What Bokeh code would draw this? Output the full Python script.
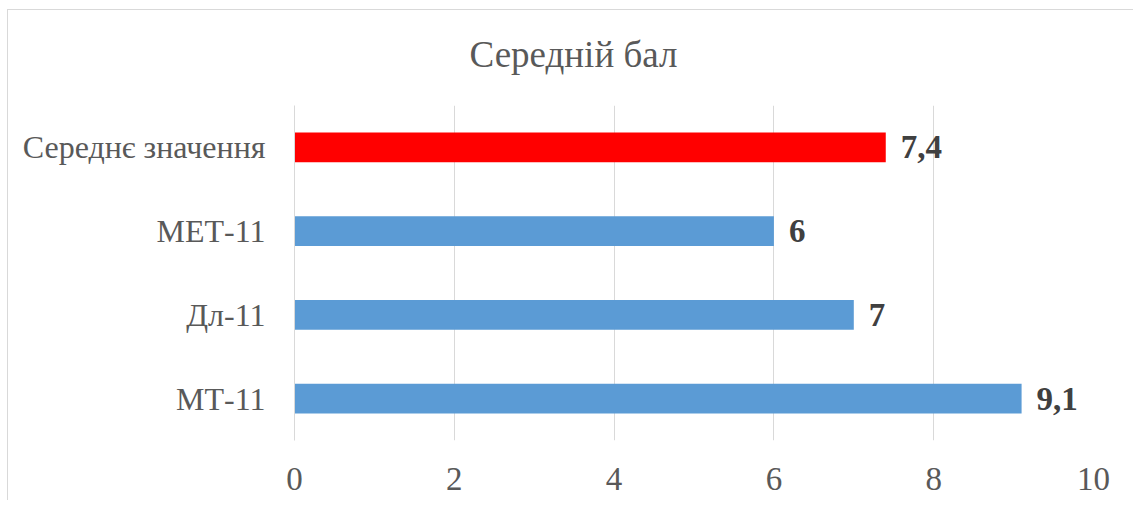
from bokeh.plotting import figure
from bokeh.models import ColumnDataSource, FactorRange, Range1d, FixedTicker, LabelSet
from bokeh.core.properties import value
from bokeh.embed import file_html
from bokeh.resources import INLINE

# Data (bottom to top)
title_text = "Середній бал"
categories = ["МТ-11", "Дл-11", "МЕТ-11", "Середнє значення"]
values = [9.1, 7, 6, 7.4]
colors = ["#5B9BD5", "#5B9BD5", "#5B9BD5", "#FF0000"]
x_ticks = [0, 2, 4, 6, 8, 10]


def fmt(v):
    s = ("%g" % v)
    return s.replace(".", ",")


labels = [fmt(v) for v in values]

source = ColumnDataSource(dict(cat=categories, val=values, color=colors, label=labels))

FONT = "Liberation Serif"

p = figure(
    width=1126, height=500,
    y_range=FactorRange(factors=categories, range_padding=0),
    x_range=Range1d(0, 10),
    output_backend="svg", toolbar_location=None,
    min_border_left=287, min_border_right=40, min_border_top=105, min_border_bottom=60,
    background_fill_color=None, border_fill_color=None,
)
# chart-area frame lines (top and left), drawn as the element background
p.styles = {
    "margin-left": "7px",
    "background": ("linear-gradient(#d9d9d9, #d9d9d9) 0px 9px / 100% 1px no-repeat, "
                   "linear-gradient(#d9d9d9, #d9d9d9) 0px 9px / 1px 100% no-repeat, #ffffff"),
}
p.outline_line_color = None

p.title.text = title_text
p.title.align = "left"
p.title.offset = 175
p.title.text_font = FONT
p.title.text_font_size = "37px"
p.title.text_font_style = "normal"
p.title.text_color = "#595959"
p.title.standoff = 61

p.hbar(y="cat", right="val", left=0, height=0.355, color="color", line_color=None, source=source)

p.add_layout(LabelSet(x="val", y="cat", text="label", source=source, x_offset=15,
                      text_align="left", text_baseline="middle",
                      text_font=value(FONT), text_font_size="33px", text_font_style="bold",
                      text_color="#404040"))

# x axis
p.xaxis.ticker = FixedTicker(ticks=x_ticks)
p.xaxis.axis_line_color = None
p.xaxis.major_tick_line_color = None
p.xaxis.minor_tick_line_color = None
p.xaxis.major_label_text_font = FONT
p.xaxis.major_label_text_font_size = "33px"
p.xaxis.major_label_text_color = "#595959"
p.xaxis.major_label_standoff = 21

# y axis
p.yaxis.axis_line_color = "#d9d9d9"
p.yaxis.major_tick_line_color = None
p.yaxis.minor_tick_line_color = None
p.yaxis.major_tick_out = 0
p.yaxis.major_label_standoff = 29
p.yaxis.major_label_text_font = FONT
p.yaxis.major_label_text_font_size = "32px"
p.yaxis.major_label_text_color = "#595959"

p.xgrid.grid_line_color = "#d9d9d9"
p.xgrid.grid_line_width = 1
p.ygrid.grid_line_color = None

open("out.html", "w").write(file_html(p, INLINE))
